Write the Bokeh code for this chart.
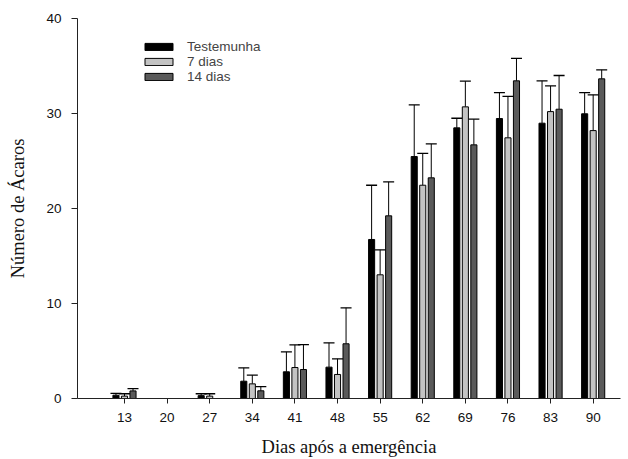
import numpy as np
from bokeh.plotting import figure
from bokeh.models import (ColumnDataSource, FixedTicker, Range1d, Whisker, TeeHead,
                          Legend, LegendItem)
from bokeh.embed import file_html
from bokeh.resources import INLINE

# ---- data ----
days = [13, 20, 27, 34, 41, 48, 55, 62, 69, 76, 83, 90]
series_names = ["Testemunha", "7 dias", "14 dias"]
testemunha = [0.35, 0, 0.3, 1.82, 2.81, 3.3, 16.74, 25.47, 28.49, 29.47, 28.98, 29.97]
testemunha_err = [0.2, 0, 0.2, 1.41, 2.10, 2.56, 5.71, 5.43, 1.01, 2.73, 4.46, 2.23]
sete_dias = [0.25, 0, 0.25, 1.54, 3.26, 2.53, 13.02, 22.45, 30.7, 27.44, 30.2, 28.2]
sete_dias_err = [0.25, 0, 0.25, 0.92, 2.39, 1.65, 2.63, 3.35, 2.7, 4.36, 2.7, 3.77]
catorze_dias = [0.8, 0, 0, 0.81, 3.05, 5.76, 19.23, 23.23, 26.7, 33.44, 30.45, 33.65]
catorze_dias_err = [0.25, 0, 0, 0.45, 2.63, 3.79, 3.57, 3.57, 2.7, 2.36, 3.55, 0.95]
y_ticks = [0, 10, 20, 30, 40]
x_title = "Dias após a emergência"
y_title = "Número de Ácaros"

means = [testemunha, sete_dias, catorze_dias]
errs = [testemunha_err, sete_dias_err, catorze_dias_err]
colors = ["#000000", "#c3c3c3", "#5a5a5a"]
offsets = [-1.4, 0.0, 1.4]

p = figure(width=628, height=459, output_backend="svg", toolbar_location=None,
           x_range=Range1d(5.28, 94.49), y_range=Range1d(0, 40),
           min_border_left=77, min_border_right=8, min_border_top=18,
           min_border_bottom=61)
p.outline_line_color = None
p.xgrid.visible = False
p.ygrid.visible = False

renderers = []
for m, e, c, off in zip(means, errs, colors, offsets):
    x = np.array(days, dtype=float) + off
    m = np.array(m, dtype=float)
    e = np.array(e, dtype=float)
    src = ColumnDataSource(dict(x=x, top=m))
    r = p.vbar(x="x", top="top", width=1.0, source=src, fill_color=c,
               line_color="black", line_width=1)
    renderers.append(r)
    mask = e > 0
    wsrc = ColumnDataSource(dict(base=x[mask], lower=m[mask], upper=(m + e)[mask]))
    w = Whisker(base="base", lower="lower", upper="upper", source=wsrc,
                line_color="black", line_width=1, lower_head=None,
                upper_head=TeeHead(size=11, line_color="black", line_width=1.3))
    p.add_layout(w)

legend = Legend(items=[LegendItem(label=n, renderers=[r]) for n, r in zip(series_names, renderers)],
                location=(64, 314), glyph_width=35, glyph_height=9,
                label_text_font="Liberation Sans", label_text_font_size="13.5px",
                label_standoff=11, padding=0, margin=0, spacing=0, label_height=15,
                border_line_color=None, background_fill_alpha=0)
p.add_layout(legend)

for ax in (p.xaxis[0], p.yaxis[0]):
    ax.axis_line_color = "#222222"
    ax.major_tick_line_color = "#222222"
    ax.minor_tick_line_color = None
    ax.major_tick_in = 0
    ax.major_tick_out = 6
    ax.major_label_text_font = "Liberation Sans"
    ax.major_label_text_font_size = "13.5px"
    ax.major_label_text_color = "#111111"
    ax.axis_label_text_font = "Liberation Serif"
    ax.axis_label_text_font_size = "18.5px"
    ax.axis_label_text_font_style = "normal"
    ax.axis_label_text_color = "#111111"

p.xaxis.ticker = FixedTicker(ticks=days)
p.xaxis.major_tick_out = 5
p.xaxis.major_label_standoff = 9
p.xaxis.axis_label = x_title
p.xaxis.axis_label_standoff = 12

p.yaxis.ticker = FixedTicker(ticks=y_ticks)
p.yaxis.major_label_standoff = 10
p.yaxis.axis_label = y_title
p.yaxis.axis_label_standoff = 15

open("out.html", "w").write(file_html(p, INLINE))
